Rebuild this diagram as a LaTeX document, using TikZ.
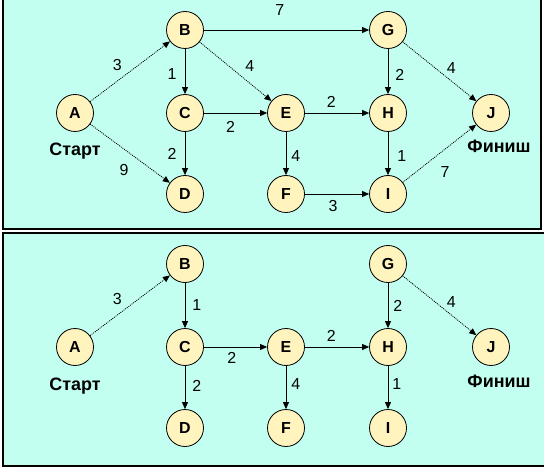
\documentclass[tikz,border=0pt]{standalone}
\usepackage{fontspec}
\setmainfont{Liberation Sans}
\usetikzlibrary{arrows.meta,positioning}

\definecolor{panelbg}{RGB}{194,255,240}
\definecolor{vertexbg}{RGB}{255,243,190}

\tikzset{
  vertex/.style={circle,draw=black,line width=.8bp,fill=vertexbg,minimum size=37bp,
    inner sep=0pt,font=\bfseries\fontsize{16}{16}\selectfont},
  wt/.style={font=\fontsize{16}{16}\selectfont,inner sep=1bp},
  tag/.style={font=\bfseries\fontsize{18}{18}\selectfont,inner sep=0pt},
  frame/.style={line width=1.5bp,draw=black,fill=panelbg},
  faint/.style={dash pattern=on 1bp off 1bp}
}

\begin{document}
\begin{tikzpicture}[x=1bp,y=-1bp]
\clip (0,0) rectangle (544,469);
\fill[white] (0,0) rectangle (544,469);
% panels
\draw[frame] (3,-5) rectangle (541,229);
\draw[frame] (3,233) rectangle (550,466);

% vertices, both panels
\foreach \n/\x/\y in {A/75/113, B/185/30, C/185/113, D/185/194, E/286/113,
                      F/286/194, G/388/30, H/388/113, I/388/194, J/491/113}{
  \node[vertex] (\n) at (\x,\y) {\n};
  \node[vertex] (\n2) at (\x,\y+234) {\n};
}
\node[tag,below=11bp of A] (startA) {Старт};
\node[tag,below=8bp of J,xshift=8bp] (finishJ) {Финиш};
\node[tag,below=12bp of A2] (startA2) {Старт};
\node[tag,below=9bp of J2,xshift=8bp] (finishJ2) {Финиш};

\begin{scope}[-{Triangle[length=7bp,width=6bp]},line width=.8bp]
% full network
	\draw [faint] (A) -- node[wt,pos=.45,above left=4bp] {3} (B);
	\draw [faint] (A) -- node[wt,pos=.57,below left=8bp] {9} (D);
	\draw (B) -- node[wt,pos=.55,left=7bp] {1} (C);
	\draw [faint] (B) -- node[wt,pos=.58,above right=4bp] {4} (E);
	\draw (B) -- node[wt,pos=.46,above=13bp] {7} (G);
	\draw (C) -- node[wt,pos=.42,below=7bp] {2} (E);
	\draw (C) -- node[wt,pos=.5,left=7bp] {2} (D);
	\draw (E) -- node[wt,pos=.41,above=4bp] {2} (H);
	\draw (E) -- node[wt,pos=.55,right=4bp] {4} (F);
	\draw (G) -- node[wt,pos=.58,right=6bp] {2} (H);
	\draw [faint] (G) -- node[wt,pos=.57,above right=1bp] {4} (J);
	\draw (H) -- node[wt,pos=.55,right=8bp] {1} (I);
	\draw (F) -- node[wt,pos=.44,below=5bp] {3} (I);
	\draw [faint] (I) -- node[wt,pos=.41,below right=9bp] {7} (J);
% shortest path tree
	\draw [faint] (A2) -- node[wt,pos=.45,above left=4bp] {3} (B2);
	\draw (B2) -- node[wt,pos=.5,right=6bp] {1} (C2);
	\draw (C2) -- node[wt,pos=.44,below=4bp] {2} (E2);
	\draw (C2) -- node[wt,pos=.47,right=6bp] {2} (D2);
	\draw (E2) -- node[wt,pos=.41,above=4bp] {2} (H2);
	\draw (E2) -- node[wt,pos=.42,right=4bp] {4} (F2);
	\draw (G2) -- node[wt,pos=.52,right=4bp] {2} (H2);
	\draw [faint] (G2) -- node[wt,pos=.57,above right=1bp] {4} (J2);
	\draw (H2) -- node[wt,pos=.42,right=3bp] {1} (I2);
\end{scope}
\end{tikzpicture}
\end{document}
